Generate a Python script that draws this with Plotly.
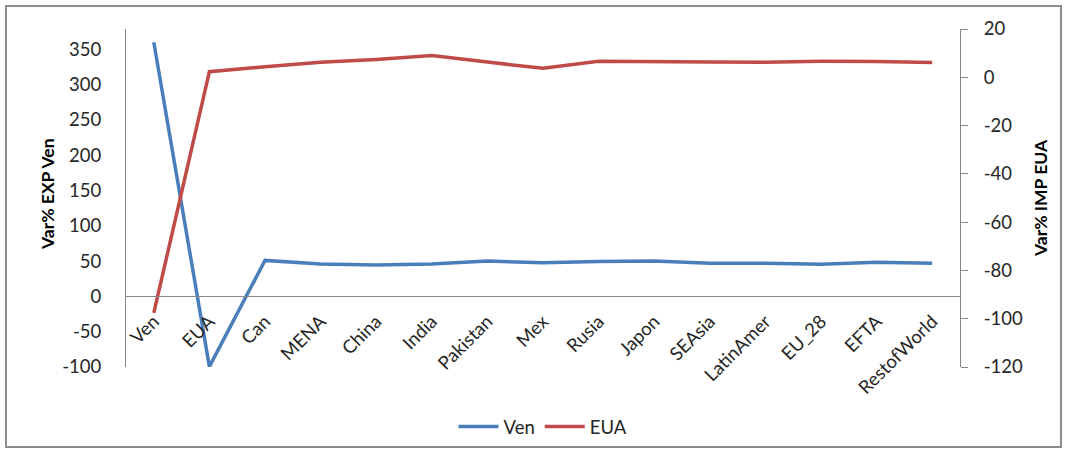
import plotly.graph_objects as go

# Regions / trading partners
regions = ["Ven", "EUA", "Can", "MENA", "China", "India", "Pakistan", "Mex",
           "Rusia", "Japon", "SEAsia", "LatinAmer", "EU_28", "EFTA", "RestofWorld"]

# Var% exports of Venezuela (left axis)
ven = [360, -99.5, 51, 46, 44.5, 46, 50, 47.5, 49.5, 50, 47, 47, 45.5, 48.5, 47]

# Var% imports of EUA (right axis)
eua = [-97.6, 2.3, 4.4, 6.2, 7.4, 9.0, 6.3, 3.7, 6.6, 6.3, 6.3, 6.2, 6.6, 6.5, 6.1]

left_ticks = [-100, -50, 0, 50, 100, 150, 200, 250, 300, 350]
left_tick_text = ["-100", "-50", "0", "50", "100", "150", "200", "250", "300", "350"]
right_ticks = [-120, -100, -80, -60, -40, -20, 0, 20]
right_tick_text = ["-120", "-100", "-80", "-60", "-40", "-20", "0", "20"]

BLUE = "#4A7EBB"
RED = "#BE4B48"
AXIS = "#868686"
TXT = "#262626"
FONT = "Lato, 'Open Sans', sans-serif"
TICK_SIZE = 18.5

# plot area in pixels
W, H = 1067, 454
L, R, T, B = 126, 960, 29, 367
pw, ph = R - L, B - T


def px_x(x):
    return (x - L) / pw


def px_y(y):
    return (B - y) / ph


fig = go.Figure()
fig.add_trace(go.Scatter(x=regions, y=ven, name="Ven", mode="lines",
                         line=dict(color=BLUE, width=3.5), yaxis="y"))
fig.add_trace(go.Scatter(x=regions, y=eua, name="EUA", mode="lines",
                         line=dict(color=RED, width=3.5), yaxis="y2"))

left_min = -100
left_max = -100 + 478.7
zero_pos = (0 - left_min) / (left_max - left_min)

fig.update_layout(
    width=W, height=H,
    margin=dict(l=L, r=W - R, t=T, b=H - B, autoexpand=False),
    paper_bgcolor="white", plot_bgcolor="white",
    font=dict(family=FONT, size=TICK_SIZE, color=TXT),
    showlegend=True,
    legend=dict(orientation="h", x=0.5, xanchor="center",
                y=px_y(427), yanchor="middle",
                font=dict(size=TICK_SIZE, color=TXT), itemwidth=40,
                bgcolor="rgba(0,0,0,0)"),
    xaxis=dict(
        type="category", range=[-0.5, len(regions) - 0.5],
        anchor="free", position=zero_pos,
        showline=True, linecolor=AXIS, linewidth=1,
        ticks="", tickangle=-45, ticklabelstandoff=6,
        showgrid=False, zeroline=False,
        tickfont=dict(size=TICK_SIZE, color=TXT),
    ),
    yaxis=dict(
        range=[left_min, left_max], tickvals=left_ticks, ticktext=left_tick_text,
        showline=True, linecolor=AXIS, linewidth=1,
        ticks="", ticklabelstandoff=20, showgrid=False, zeroline=False,
        tickfont=dict(size=TICK_SIZE, color=TXT),
    ),
    yaxis2=dict(
        range=[-120, 20], tickvals=right_ticks, ticktext=right_tick_text,
        overlaying="y", side="right", anchor="x",
        showline=True, linecolor=AXIS, linewidth=1,
        ticks="outside", ticklen=7, tickcolor=AXIS, ticklabelstandoff=12,
        showgrid=False, zeroline=False,
        tickfont=dict(size=TICK_SIZE, color=TXT),
    ),
    annotations=[
        dict(text="<b>Var% EXP Ven</b>", xref="paper", yref="paper",
             x=px_x(47), y=px_y(194), xanchor="center", yanchor="middle",
             textangle=-90, showarrow=False,
             font=dict(size=17.5, color="black")),
        dict(text="<b>Var% IMP EUA</b>", xref="paper", yref="paper",
             x=px_x(1040), y=px_y(198), xanchor="center", yanchor="middle",
             textangle=-90, showarrow=False,
             font=dict(size=17.5, color="black")),
    ],
    shapes=[
        dict(type="rect", xref="paper", yref="paper",
             x0=px_x(6), x1=px_x(1061), y0=px_y(447), y1=px_y(6),
             line=dict(color="#8C8C8C", width=2), fillcolor="rgba(0,0,0,0)",
             layer="below"),
    ],
)

fig.write_html("out.html")
